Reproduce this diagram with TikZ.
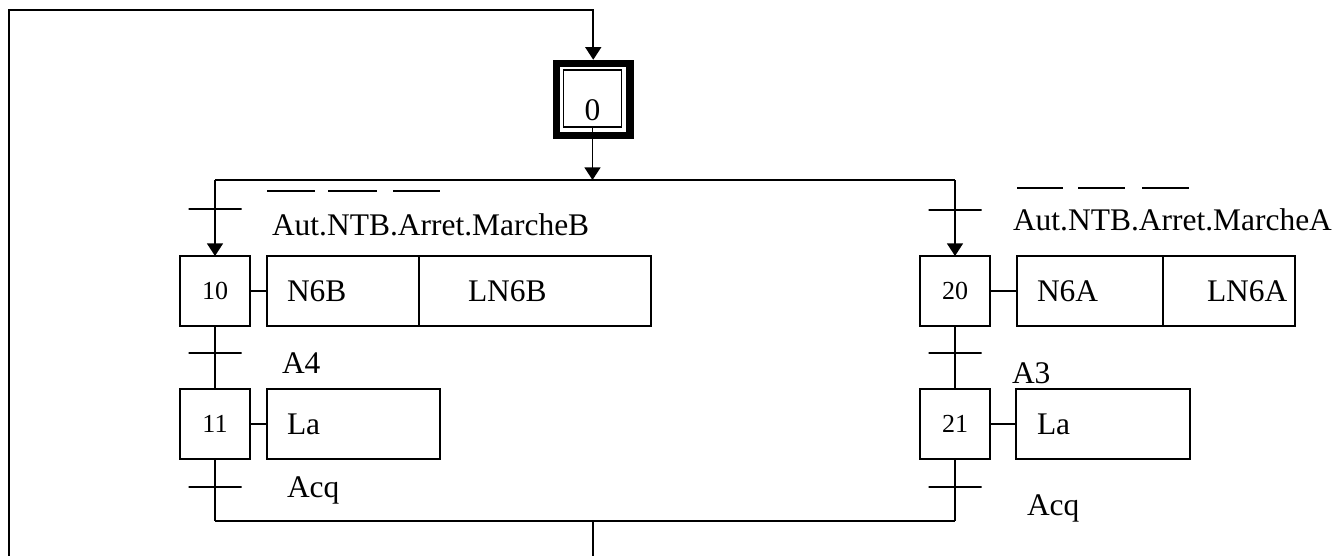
\documentclass[tikz,border=0pt]{standalone}
\usepackage{fontspec}
\setmainfont{Liberation Serif}
\usetikzlibrary{arrows.meta}
% a fixed-width action cell with its text set flush left after a gap
\newcommand\actcell[3]{\makebox[#1][l]{\hspace*{#2}#3}}

\begin{document}
\begin{tikzpicture}[x=0.75pt, y=-0.75pt,
  every node/.style={inner sep=0pt, outer sep=0pt},
  wire/.style={line width=1.2pt},
  flow/.style={wire, -{Triangle[length=9.5pt,width=12pt]}},
  bigtext/.style={font=\fontsize{23.6pt}{28pt}\selectfont},
  stepbox/.style={draw, line width=1.4pt, minimum width=52.5pt, minimum height=52.5pt,
    font=\fontsize{19.5pt}{23pt}\selectfont},
  actbox/.style={draw, line width=1.4pt, minimum height=52.5pt, bigtext},
  trans/.style={draw, line width=1.3pt, minimum width=39.75pt, minimum height=0pt},
  cond/.style={anchor=base west, bigtext},
  overbar/.style={line width=1.2pt},
]
\useasboundingbox (0,0) rectangle (1341,556);

% initial step
\node[draw, line width=1.1pt, minimum width=43.5pt, minimum height=42.75pt,
  text height=33.75pt, text depth=0pt, bigtext] (s0) at (592.5,98.5) {0};
\node[draw, line width=5.6pt, outer sep=2.8pt, minimum width=55.1pt, minimum height=54pt] (s0f) at (593.25,99.5) {};

% steps
\node[stepbox] (s10) at (215,291) {10};
\node[stepbox] (s11) at (215,424) {11};
\node[stepbox] (s20) at (955,291) {20};
\node[stepbox] (s21) at (955,424) {21};

% actions
\node[actbox] (a10a) at (343,291) {\actcell{114pt}{15pt}{N6B}};
\node[actbox] (a10b) at (535,291) {\actcell{174pt}{36.75pt}{LN6B}};
\node[actbox] (a11)  at (353.5,424) {\actcell{129.75pt}{15pt}{La}};
\node[actbox] (a20a) at (1090,291) {\actcell{109.5pt}{15pt}{N6A}};
\node[actbox] (a20b) at (1229,291) {\actcell{99pt}{33pt}{LN6A}};
\node[actbox] (a21)  at (1103,424) {\actcell{130.5pt}{15.75pt}{La}};

% transitions
\node[trans] (t1) at (215,209) {};
\node[trans] (t2) at (215,353) {};
\node[trans] (t3) at (215,487) {};
\node[trans] (t4) at (955,210) {};
\node[trans] (t5) at (955,353) {};
\node[trans] (t6) at (955,487) {};

% receptivities
\node[cond] (c1) at (272,235) {Aut.NTB.Arret.MarcheB};
\node[cond] (c2) at (282,373) {A4};
\node[cond] (c3) at (287,497) {Acq};
\node[cond] (c4) at (1013,230) {Aut.NTB.Arret.MarcheA};
\node[cond] (c5) at (1012,383) {A3};
\node[cond] (c6) at (1027,515) {Acq};

% negation bars
\draw[overbar] (267,191) -- (315,191);
\draw[overbar] (328,191) -- (377,191);
\draw[overbar] (393,191) -- (440,191);
\draw[overbar] (1017,188) -- (1063,188);
\draw[overbar] (1078,188) -- (1125,188);
\draw[overbar] (1142,188) -- (1189,188);

% fixed points of the links
\coordinate (divL) at (215,180);
\coordinate (divR) at (955,180);
\coordinate (divM) at (592.5,180);
\coordinate (convL) at (215,521);
\coordinate (convR) at (955,521);
\coordinate (convM) at (593,521);
\coordinate (out) at (593,556);
\coordinate (fbB) at (9,556);
\coordinate (fbT) at (9,10);

% loop back to the initial step
\draw[flow] (fbB) -- (fbT) -| (s0f.north);
\draw[flow] (s0.south) -- (divM);

% divergence
\draw[wire] (divL) -- (divR);
\draw[flow] (divL) -- (t1.center) -- (s10.north);
\draw[flow] (divR) -- (t4.center) -- (s20.north);

% sequences
\draw[wire] (s10.south) -- (t2.center) -- (s11.north);
\draw[wire] (s11.south) -- (t3.center) -- (convL);
\draw[wire] (s20.south) -- (t5.center) -- (s21.north);
\draw[wire] (s21.south) -- (t6.center) -- (convR);

% convergence
\draw[wire] (convL) -- (convR);
\draw[wire] (convM) -- (out);

% step to action links
\draw[wire] (s10.east) -- (a10a.west);
\draw[wire] (s11.east) -- (a11.west);
\draw[wire] (s20.east) -- (a20a.west);
\draw[wire] (s21.east) -- (a21.west);
\end{tikzpicture}
\end{document}
